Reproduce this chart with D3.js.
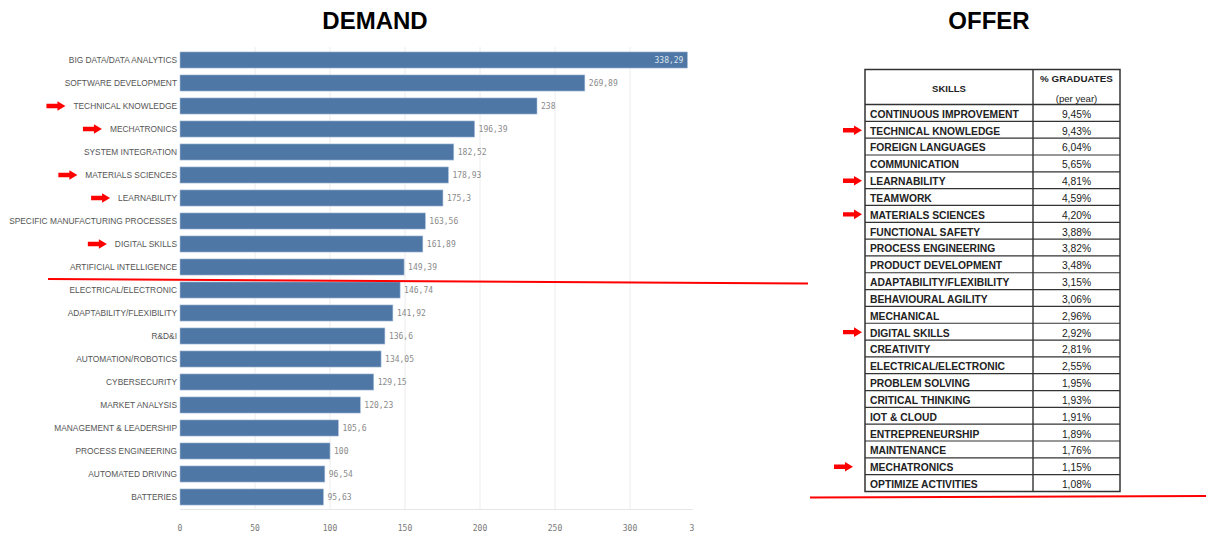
<!DOCTYPE html>
<html><head><meta charset="utf-8">
<script src="https://cdn.jsdelivr.net/npm/d3@7"></script>
<style>
html,body{margin:0;padding:0;background:#fff;}
svg{display:block;}
</style></head>
<body>
<svg id="c" width="1206" height="536"></svg>
<script>
// ---- DATA ----
const demandSkills = ["BIG DATA/DATA ANALYTICS","SOFTWARE DEVELOPMENT","TECHNICAL KNOWLEDGE","MECHATRONICS","SYSTEM INTEGRATION","MATERIALS SCIENCES","LEARNABILITY","SPECIFIC MANUFACTURING PROCESSES","DIGITAL SKILLS","ARTIFICIAL INTELLIGENCE","ELECTRICAL/ELECTRONIC","ADAPTABILITY/FLEXIBILITY","R&D&I","AUTOMATION/ROBOTICS","CYBERSECURITY","MARKET ANALYSIS","MANAGEMENT & LEADERSHIP","PROCESS ENGINEERING","AUTOMATED DRIVING","BATTERIES"];
const demandValues = [338.29,269.89,238,196.39,182.52,178.93,175.3,163.56,161.89,149.39,146.74,141.92,136.6,134.05,129.15,120.23,105.6,100,96.54,95.63];
const axisTicks = [0,50,100,150,200,250,300];
const offerSkills = ["CONTINUOUS IMPROVEMENT","TECHNICAL KNOWLEDGE","FOREIGN LANGUAGES","COMMUNICATION","LEARNABILITY","TEAMWORK","MATERIALS SCIENCES","FUNCTIONAL SAFETY","PROCESS ENGINEERING","PRODUCT DEVELOPMENT","ADAPTABILITY/FLEXIBILITY","BEHAVIOURAL AGILITY","MECHANICAL","DIGITAL SKILLS","CREATIVITY","ELECTRICAL/ELECTRONIC","PROBLEM SOLVING","CRITICAL THINKING","IOT & CLOUD","ENTREPRENEURSHIP","MAINTENANCE","MECHATRONICS","OPTIMIZE ACTIVITIES"];
const offerValues = [9.45,9.43,6.04,5.65,4.81,4.59,4.20,3.88,3.82,3.48,3.15,3.06,2.96,2.92,2.81,2.55,1.95,1.93,1.91,1.89,1.76,1.15,1.08];
const highlighted = ["TECHNICAL KNOWLEDGE","MECHATRONICS","MATERIALS SCIENCES","LEARNABILITY","DIGITAL SKILLS"];
const cutoffAfter = "ARTIFICIAL INTELLIGENCE";

const svg = d3.select("#c");
const comma = v => String(v).replace(".", ",");
const pct = v => v.toFixed(2).replace(".", ",") + "%";

function arrow(g, xEnd, yc, len) {
  const L = len || 19;
  const x0 = xEnd - L, hx = xEnd - 8;
  g.append("path")
    .attr("d", `M${x0},${yc-2.2}L${hx},${yc-2.2}L${hx},${yc-4.8}L${xEnd},${yc}L${hx},${yc+4.8}L${hx},${yc+2.2}L${x0},${yc+2.2}Z`)
    .attr("fill", "#ff0000");
}

// ---- TITLES ----
svg.append("text").attr("x", 375).attr("y", 29).attr("text-anchor","middle")
  .attr("font-family","Liberation Sans, Arial, sans-serif").attr("font-weight","bold").attr("font-size",24).attr("fill","#000").text("DEMAND");
svg.append("text").attr("x", 989).attr("y", 29).attr("text-anchor","middle")
  .attr("font-family","Liberation Sans, Arial, sans-serif").attr("font-weight","bold").attr("font-size",24).attr("fill","#000").text("OFFER");

// ---- DEMAND BAR CHART ----
const x = d3.scaleLinear().domain([0, 342]).range([180, 693]);
const y = d3.scaleBand().domain(demandSkills).range([48.5, 508.5]).paddingInner(0.3).paddingOuter(0.15);

const gd = svg.append("g");
// grid
gd.append("g").selectAll("line").data(axisTicks.slice(1)).join("line")
  .attr("x1", d => x(d)).attr("x2", d => x(d)).attr("y1", 47).attr("y2", 509)
  .attr("stroke", "#ececec").attr("stroke-width", 1);
gd.append("line").attr("x1", 180).attr("x2", 693).attr("y1", 509.5).attr("y2", 509.5).attr("stroke","#e6e6e6");

// bars
gd.append("g").selectAll("rect").data(demandSkills).join("rect")
  .attr("x", x(0)).attr("y", d => y(d)).attr("height", y.bandwidth())
  .attr("width", (d,i) => x(demandValues[i]) - x(0))
  .attr("fill", "#4e77a5").attr("stroke", "#a9bfd8").attr("stroke-width", 0.6);

// category labels (condensed look by horizontal scaling)
const labelG = gd.append("g").selectAll("g").data(demandSkills).join("g")
  .attr("transform", d => `translate(177,${y(d) + y.bandwidth()/2})`);
const labels = labelG.append("text")
  .attr("x", 0).attr("y", 0).attr("dy","0.35em")
  .attr("text-anchor","end").attr("font-family","Liberation Sans, Arial, sans-serif")
  .attr("font-size", 9.8).attr("fill","#555").text(d => d);
let maxW = 0;
labels.each(function(){ maxW = Math.max(maxW, this.getComputedTextLength()); });
const sx = 168 / maxW;
labels.attr("transform", `scale(${sx},1)`);

// value labels
gd.append("g").selectAll("text").data(demandSkills).join("text")
  .attr("x", (d,i) => i === 0 ? x(demandValues[i]) - 4 : x(demandValues[i]) + 4)
  .attr("y", d => y(d) + y.bandwidth()/2).attr("dy","0.35em")
  .attr("text-anchor", (d,i) => i === 0 ? "end" : "start")
  .attr("font-family","DejaVu Sans Mono, monospace").attr("font-size", 8)
  .attr("fill", (d,i) => i === 0 ? "#dfe6ef" : "#8a8a8a")
  .text((d,i) => comma(demandValues[i]));

// axis tick labels
gd.append("g").selectAll("text").data(axisTicks).join("text")
  .attr("x", d => x(d)).attr("y", 531).attr("text-anchor","middle")
  .attr("font-family","DejaVu Sans Mono, monospace").attr("font-size", 8).attr("fill","#777")
  .text(d => d);
// clipped final tick label
gd.append("text").attr("x", x(342) - 1).attr("y", 531).attr("text-anchor","middle")
  .attr("font-family","DejaVu Sans Mono, monospace").attr("font-size", 8).attr("fill","#777").text("3");

// arrows for demand
labels.each(function(d) {
  if (highlighted.includes(d)) {
    const w = this.getComputedTextLength() * sx;
    arrow(gd, 177 - w - 8, y(d) + y.bandwidth()/2);
  }
});

// cutoff red line
const cutY = y(cutoffAfter) + y.bandwidth() + 0.15 * y.step();
svg.append("line").attr("x1", 48).attr("x2", 808).attr("y1", cutY + 0.5).attr("y2", cutY + 5)
  .attr("stroke","#ff0000").attr("stroke-width", 2);

// ---- OFFER TABLE ----
const tx0 = 865, tx1 = 1033, tx2 = 1120;
const ty0 = 69.5, tyH = 104.5;
const ry = d3.scaleBand().domain(offerSkills).range([tyH, 491.5]);
const gt = svg.append("g");
const tf = "Liberation Sans, Arial, sans-serif";

// header
gt.append("text").attr("x", (tx0+tx1)/2).attr("y", 91.5).attr("text-anchor","middle")
  .attr("font-family", tf).attr("font-weight","bold").attr("font-size", 9.5).attr("fill","#222").text("SKILLS");
gt.append("text").attr("x", (tx1+tx2)/2).attr("y", 82).attr("text-anchor","middle")
  .attr("font-family", tf).attr("font-weight","bold").attr("font-size", 9.8).attr("fill","#222").text("% GRADUATES");
gt.append("text").attr("x", (tx1+tx2)/2).attr("y", 101.5).attr("text-anchor","middle")
  .attr("font-family", tf).attr("font-size", 9.6).attr("fill","#222").text("(per year)");

// rows
gt.append("g").selectAll("text").data(offerSkills).join("text")
  .attr("x", tx0 + 5).attr("y", d => ry(d) + ry.bandwidth()/2 + 0.8).attr("dy","0.4em")
  .attr("font-family", tf).attr("font-weight","bold").attr("font-size", 10.3).attr("fill","#222").text(d => d);
gt.append("g").selectAll("text").data(offerSkills).join("text")
  .attr("x", (tx1+tx2)/2).attr("y", d => ry(d) + ry.bandwidth()/2 + 0.8).attr("dy","0.4em").attr("text-anchor","middle")
  .attr("font-family", tf).attr("font-size", 10.3).attr("fill","#1a1a1a").text((d,i) => pct(offerValues[i]));

// grid lines
gt.append("g").selectAll("line").data(offerSkills.slice(1)).join("line")
  .attr("x1", tx0).attr("x2", tx2).attr("y1", d => ry(d)).attr("y2", d => ry(d))
  .attr("stroke","#333").attr("stroke-width", 1.2);
gt.append("line").attr("x1", tx0).attr("x2", tx2).attr("y1", tyH).attr("y2", tyH).attr("stroke","#333").attr("stroke-width",1.4);
gt.append("line").attr("x1", tx1).attr("x2", tx1).attr("y1", ty0).attr("y2", 491.5).attr("stroke","#333").attr("stroke-width",1.4);
gt.append("rect").attr("x", tx0).attr("y", ty0).attr("width", tx2-tx0).attr("height", 491.5-ty0)
  .attr("fill","none").attr("stroke","#333").attr("stroke-width",1.5);

// table arrows
offerSkills.forEach(d => {
  if (highlighted.includes(d)) {
    const xe = d === "MECHATRONICS" ? 853 : 862;
    arrow(gt, xe, ry(d) + ry.bandwidth()/2 + 0.5);
  }
});

// bottom red line
svg.append("line").attr("x1", 810).attr("x2", 1206).attr("y1", 497.5).attr("y2", 496)
  .attr("stroke","#ff0000").attr("stroke-width", 2);
</script>
</body></html>
